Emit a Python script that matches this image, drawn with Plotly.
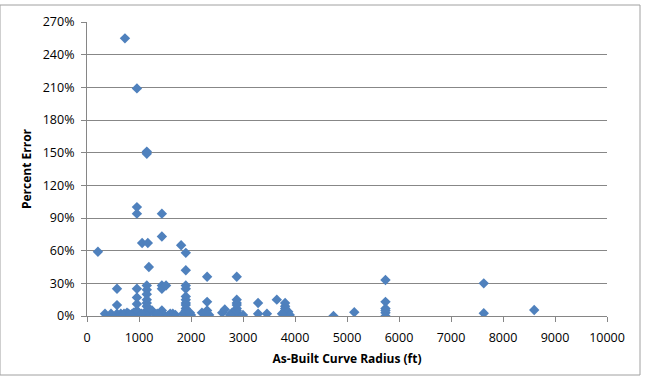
import plotly.graph_objects as go

radius_ft = [
    210, 346, 462, 577, 650, 712, 769, 800, 577, 577, 870, 900, 960, 960, 960, 960, 960, 960, 960, 960, 730, 700, 830,
    1060, 1170, 1150, 1150, 1190, 1150, 1150, 1150, 1150, 1150, 1150, 1150, 1150, 1150, 1050, 1250, 1300,
    1440, 1440, 1440, 1440, 1520, 1440, 1440, 1480, 1400, 1350, 1600, 1650, 1700, 1550,
    1810, 1900, 1900, 1900, 1900, 1900, 1900, 1900, 1900, 1900, 1900, 1900, 1900, 1950, 1850, 2000, 1980,
    2310, 2880, 2310, 2310, 2210, 2600, 2650, 2880, 2880, 2880, 2880, 2880, 2880, 2880, 2790, 3000, 2250, 2350, 2750,
    3290, 3290, 3460, 3650, 3810, 3810, 3810, 3810, 3810, 3810, 3870, 3900, 3750,
    4740, 5140, 5740, 5740, 5740, 5740, 5740, 5740, 7630, 7630, 8600,
]
percent_error = [
    59, 2, 2, 2, 2, 2, 3, 2, 10, 25, 2, 3, 2, 5, 11, 17, 25, 94, 100, 209, 255, 1, 1,
    67, 67, 151, 149, 45, 28, 24, 20, 15, 12, 9, 5, 2, 0, 2, 5, 2,
    94, 73, 28, 25, 28, 5, 2, 1, 1, 2, 2, 2, 1, 0,
    65, 58, 42, 28, 25, 18, 15, 12, 10, 7, 5, 3, 1, 0, 2, 1, 3,
    36, 36, 13, 5, 3, 3, 6, 15, 12, 10, 7, 5, 3, 1, 3, 1, 2, 1, 1,
    12, 2, 2, 15, 12, 9, 7, 5, 3, 1, 4, 1, 2,
    0, 3.5, 33, 13, 7, 5, 3, 0, 30, 2.5, 5.5,
]
x_ticks = list(range(0, 10001, 1000))
y_ticks = list(range(0, 271, 30))
y_tick_labels = [f"{v}%" for v in y_ticks]

fig = go.Figure()
fig.add_trace(go.Scatter(
    x=radius_ft,
    y=percent_error,
    mode="markers",
    marker=dict(symbol="diamond", size=8, color="#4F81BD", line=dict(width=0)),
    showlegend=False,
))

font_family = "Open Sans, Liberation Sans, sans-serif"
fig.update_layout(
    width=648, height=386,
    margin=dict(l=87, r=41, t=22, b=70),
    paper_bgcolor="white",
    plot_bgcolor="white",
    font=dict(family=font_family, size=12, color="#000000"),
    xaxis=dict(
        range=[0, 10000],
        tickvals=x_ticks,
        ticktext=[str(v) for v in x_ticks],
        showgrid=False,
        zeroline=False,
        showline=True, linecolor="#868686", linewidth=1,
        ticks="outside", ticklen=5, tickcolor="#868686",
        ticklabelstandoff=5,
        tickfont=dict(size=12.5),
        title=dict(text="<b>As-Built Curve Radius (ft)</b>", font=dict(size=12), standoff=9),
    ),
    yaxis=dict(
        range=[0, 270],
        tickvals=y_ticks,
        ticktext=y_tick_labels,
        showgrid=True, gridcolor="#878787", gridwidth=1,
        zeroline=False,
        showline=True, linecolor="#868686", linewidth=1,
        ticks="outside", ticklen=5, tickcolor="#868686",
        ticklabelstandoff=4,
        tickfont=dict(size=12.5),
        title=dict(text="<b>Percent Error</b>", font=dict(size=12), standoff=8),
    ),
    shapes=[dict(
        type="rect", xref="paper", yref="paper",
        x0=-87/520, x1=(640-87)/520,
        y0=-(375-316)/294, y1=(316-5)/294,
        line=dict(color="#A0A0A0", width=1),
        fillcolor="rgba(0,0,0,0)",
        layer="below",
    )],
)

fig.write_html("out.html")
